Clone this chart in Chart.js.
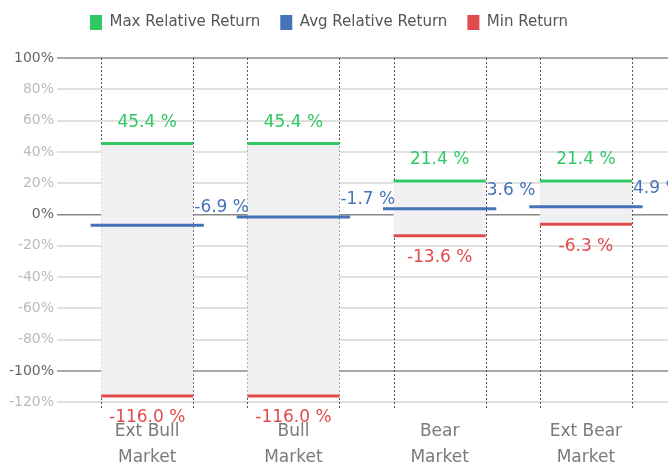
<!DOCTYPE html>
<html>
<head>
<meta charset="utf-8">
<script src="https://cdn.jsdelivr.net/npm/chart.js@4.4.1/dist/chart.umd.min.js"></script>
<style>
  html, body { margin: 0; padding: 0; background: #ffffff; }
  canvas { display: block; }
</style>
</head>
<body>
<canvas id="c" width="668" height="463"></canvas>
<script>
const categories = [['Ext Bull', 'Market'], ['Bull', 'Market'], ['Bear', 'Market'], ['Ext Bear', 'Market']];
const maxReturn = [45.4, 45.4, 21.4, 21.4];
const avgReturn = [-6.9, -1.7, 3.6, 4.9];
const minReturn = [-116.0, -116.0, -13.6, -6.3];
const yTickValues = [100, 80, 60, 40, 20, 0, -20, -40, -60, -80, -100, -120];
const majorTicks = [100, 0, -100];
const seriesNames = ['Max Relative Return', 'Avg Relative Return', 'Min Return'];

const GREEN = '#2fc864';
const BLUE = '#4672b8';
const RED = '#e24b4b';
const FONT = "'DejaVu Sans', sans-serif";

const BAR_FRACTION = 0.63;   // bar width / category width
const AVG_EXTRA = 1.23;      // avg line width relative to bar width
const LEGEND_EXTRA_HEIGHT = 13;
const LEGEND_SHIFT_UP = 5;
const LEGEND_SHIFT_LEFT = 8;

function barHalfWidth(chart) {
  const xs = chart.scales.x;
  return xs.width / categories.length * BAR_FRACTION / 2;
}

const legendTweak = {
  id: 'legendTweak',
  beforeLayout(chart) {
    const lg = chart.legend;
    if (lg && !lg._tweaked) {
      const origFit = lg.fit;
      lg.fit = function () {
        origFit.call(this);
        this.height += LEGEND_EXTRA_HEIGHT;
      };
      lg._tweaked = true;
    }
  },
  afterLayout(chart) {
    const lg = chart.legend;
    if (lg) {
      lg.top -= LEGEND_SHIFT_UP;
      lg.left -= LEGEND_SHIFT_LEFT;
      lg.right -= LEGEND_SHIFT_LEFT;
    }
  }
};

const dashedEdges = {
  id: 'dashedEdges',
  beforeDatasetsDraw(chart) {
    const meta = chart.getDatasetMeta(3);
    const ctx = chart.ctx;
    const area = chart.chartArea;
    ctx.save();
    ctx.strokeStyle = '#555';
    ctx.lineWidth = 1;
    ctx.setLineDash([2, 2]);
    meta.data.forEach(bar => {
      const half = bar.width / 2;
      [bar.x - half, bar.x + half].forEach(x => {
        const px = Math.round(x) + 0.5;
        ctx.beginPath();
        ctx.moveTo(px, area.top);
        ctx.lineTo(px, area.bottom);
        ctx.stroke();
      });
    });
    ctx.restore();
  }
};

const valueLabels = {
  id: 'valueLabels',
  afterDatasetsDraw(chart) {
    const ctx = chart.ctx;
    ctx.save();
    ctx.font = '17px ' + FONT;
    ctx.textBaseline = 'middle';
    const half = barHalfWidth(chart);
    [0, 1, 2].forEach(di => {
      const ds = chart.data.datasets[di];
      const meta = chart.getDatasetMeta(di);
      meta.data.forEach((pt, i) => {
        const txt = ds.data[i].toFixed(1) + ' %';
        ctx.fillStyle = ds.pointBorderColor;
        if (di === 0) {
          ctx.textAlign = 'center';
          ctx.fillText(txt, pt.x, pt.y - 21);
        } else if (di === 1) {
          ctx.textAlign = 'left';
          ctx.fillText(txt, pt.x + half + 1, pt.y - 18);
        } else {
          ctx.textAlign = 'center';
          ctx.fillText(txt, pt.x, pt.y + 22);
        }
      });
    });
    ctx.restore();
  }
};

function pointDataset(label, values, color, widthFactor) {
  return {
    type: 'line',
    label: label,
    data: values,
    showLine: false,
    backgroundColor: color,
    borderColor: color,
    borderWidth: 0,
    pointStyle: 'line',
    pointBorderColor: color,
    pointBorderWidth: 3,
    pointHoverBorderWidth: 3,
    pointRadius: (c) => barHalfWidth(c.chart) * widthFactor,
    pointHoverRadius: (c) => barHalfWidth(c.chart) * widthFactor,
    order: 0
  };
}

function tickColor(ctx, major, minor) {
  return majorTicks.includes(ctx.tick.value) ? major : minor;
}

const yCommon = {
  min: -125,
  max: 100,
  afterBuildTicks(scale) {
    scale.ticks = yTickValues.map(v => ({ value: v }));
  }
};

new Chart(document.getElementById('c'), {
  type: 'bar',
  data: {
    labels: categories,
    datasets: [
      pointDataset(seriesNames[0], maxReturn, GREEN, 1),
      pointDataset(seriesNames[1], avgReturn, BLUE, AVG_EXTRA),
      pointDataset(seriesNames[2], minReturn, RED, 1),
      {
        type: 'bar',
        label: 'Range',
        data: categories.map((_, i) => [minReturn[i], maxReturn[i]]),
        backgroundColor: '#f0f0f0',
        borderWidth: 0,
        categoryPercentage: 0.8,
        barPercentage: BAR_FRACTION / 0.8,
        order: 10
      }
    ]
  },
  options: {
    responsive: false,
    animation: false,
    layout: { padding: { left: 6, right: 0, top: 0, bottom: 0 } },
    plugins: {
      tooltip: { enabled: false },
      legend: {
        position: 'top',
        labels: {
          boxWidth: 12,
          padding: 20,
          color: '#555',
          font: { family: FONT, size: 15 },
          filter: (item) => item.datasetIndex !== 3
        }
      }
    },
    scales: {
      x: {
        grid: { display: false },
        border: { display: false },
        ticks: {
          color: '#7a7a7a',
          padding: 1,
          font: { family: FONT, size: 17, lineHeight: 1.5 },
          maxRotation: 0
        },
        afterFit(scale) { scale.height = 53; }
      },
      y: Object.assign({}, yCommon, {
        position: 'left',
        border: { display: false },
        grid: {
          tickLength: 17,
          color: (c) => c.tick.value === 0 ? '#888' : tickColor(c, '#a8a8a8', '#e0e0e0'),
          lineWidth: (c) => c.tick.value === 0 ? 1.5 : 2
        },
        ticks: {
          padding: 3,
          font: { family: FONT, size: 14 },
          color: (c) => tickColor(c, '#666', '#bbb'),
          callback: (v) => v + '%'
        }
      }),
      y2: Object.assign({}, yCommon, {
        position: 'right',
        border: { display: false },
        grid: {
          drawOnChartArea: false,
          tickLength: 9,
          color: (c) => c.tick.value === 0 ? '#888' : tickColor(c, '#a8a8a8', '#e0e0e0'),
          lineWidth: (c) => c.tick.value === 0 ? 1.5 : 2
        },
        ticks: { display: false }
      })
    }
  },
  plugins: [legendTweak, dashedEdges, valueLabels]
});
</script>
</body>
</html>
